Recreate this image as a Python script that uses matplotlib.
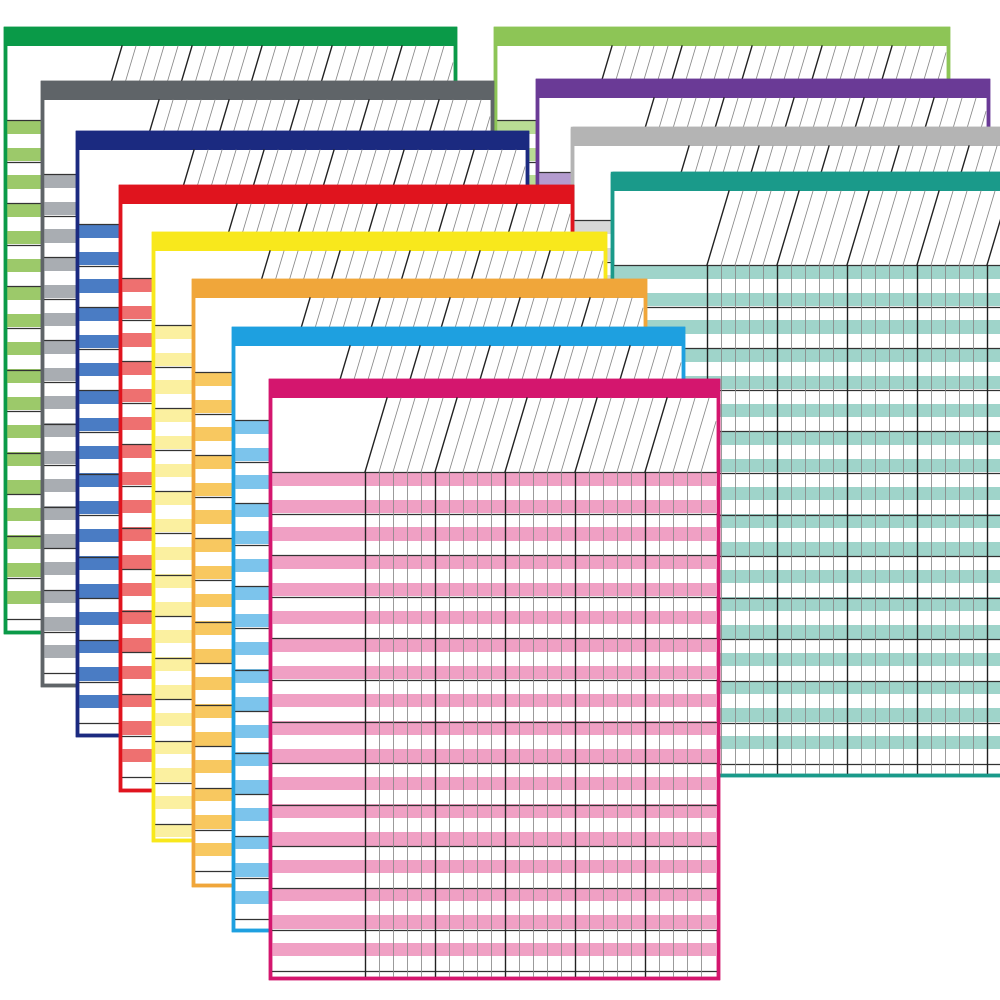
import matplotlib
matplotlib.use("Agg")
import matplotlib.pyplot as plt
from matplotlib.patches import Rectangle

# card definitions: frame color, stripe color, left, top, right, bottom
colors = ["#8dc556", "#6a3a96", "#b4b4b4", "#1a9a8a",
          "#0a9a48", "#5f6468", "#1b2a80", "#e0141e",
          "#f8e81c", "#f0a63a", "#1ea0e0", "#d4166e"]
stripes = ["#b9dc94", "#b49ccf", "#d8d8d8", "#9fd4ca",
           "#9cc96a", "#a9adb2", "#4a7cc4", "#ee7070",
           "#fbf0a0", "#f8c860", "#7cc4ec", "#f0a0c4"]
lefts = [495, 537, 572, 612, 5, 42, 77, 120, 153, 193, 233, 270]
tops = [28, 80, 128, 173, 28, 82, 132, 186, 233, 280, 328, 380]
rights = [948, 988, 1010, 1010, 455, 492, 527, 572, 605, 645, 683, 718]
bottoms = [720, 740, 760, 775, 632, 685, 735, 790, 840, 885, 930, 978]

fig = plt.figure(figsize=(10, 10), dpi=100)
ax = fig.add_axes([0, 0, 1, 1])
ax.set_xlim(0, 1000)
ax.set_ylim(1000, 0)
ax.axis("off")
fig.patch.set_facecolor("white")

z = 0
for c, s, l, t, r, b in zip(colors, stripes, lefts, tops, rights, bottoms):
    z += 10
    ax.add_patch(Rectangle((l, t), r - l, b - t, facecolor="white", edgecolor=c, lw=2.5, zorder=z))
    ax.add_patch(Rectangle((l, t), r - l, 18, facecolor=c, edgecolor=c, lw=0, zorder=z + 1))
    ht = t + 18
    hb = t + 92
    namew = 95
    y = hb
    while y + 13 < b - 2:
        ax.add_patch(Rectangle((l + 2, y), r - l - 4, 13.5, facecolor=s, lw=0, zorder=z + 1))
        y += 27.7
    y = hb
    while y < b - 4:
        ax.plot([l, r], [y, y], color="#333333", lw=0.9, zorder=z + 2)
        y += 41.6
    x = l + namew
    k = 0
    while x < r - 3:
        major = (k % 5 == 0)
        col = "#222222" if major else "#888888"
        w = 1.0 if major else 0.6
        ax.plot([x, x], [hb, b - 2], color=col, lw=w, zorder=z + 2)
        top_x = x + 22
        if top_x <= r - 2:
            ax.plot([x, top_x], [hb, ht], color=col, lw=w, zorder=z + 2)
        else:
            yy = hb - (r - 2 - x) / 22 * (hb - ht)
            ax.plot([x, r - 2], [hb, yy], color=col, lw=w, zorder=z + 2)
        x += 14
        k += 1
    ax.add_patch(Rectangle((l, t), r - l, b - t, facecolor="none", edgecolor=c, lw=2.5, zorder=z + 3))

fig.savefig("out.png", dpi=100)
